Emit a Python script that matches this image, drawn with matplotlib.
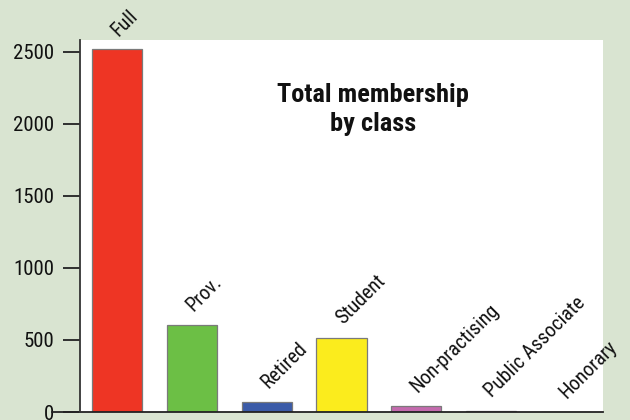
import matplotlib.pyplot as plt
from matplotlib.lines import Line2D

CLASSES = ['Full', 'Prov.', 'Retired', 'Student', 'Non-practising', 'Public Associate', 'Honorary']
MEMBERS = [2520, 605, 70, 515, 42, 8, 0]
COLOURS = ['#ee3524', '#6cbf45', '#3b5ba8', '#fbec1d', '#c46aae', '#c9d3de', '#ffffff']
YTICKS = [0, 500, 1000, 1500, 2000, 2500]

BG = '#d9e4d1'
FONT = ['Roboto Condensed', 'Archivo Narrow', 'PT Sans Narrow', 'Liberation Sans Narrow',
        'Liberation Sans', 'DejaVu Sans']

fig = plt.figure(figsize=(6.3, 4.2), dpi=100, facecolor=BG)
ax = fig.add_axes([80 / 630, 8 / 420, 523 / 630, 372 / 420])
ax.set_facecolor('white')

x = list(range(len(CLASSES)))
ax.bar(x, MEMBERS, width=0.67, color=COLOURS, edgecolor='#7a7a7a', linewidth=0.9)

ax.set_xlim(-0.5, len(CLASSES) - 0.5)
ax.set_ylim(0, 2583)

for sp in ['top', 'right', 'bottom']:
    ax.spines[sp].set_visible(False)
ax.spines['left'].set_color('#333333')
ax.spines['left'].set_linewidth(1.3)

# baseline runs a bit past the y axis
ax.add_line(Line2D([-28 / 523, 1], [0, 0], transform=ax.transAxes,
                   color='#222222', linewidth=1.3, clip_on=False))

ax.set_xticks([])
ax.set_yticks(YTICKS)
ax.set_yticklabels([str(t) for t in YTICKS], family=FONT, fontsize=15)
ax.tick_params(axis='y', direction='out', length=12.5, width=1.3, color='#222222',
               pad=6, labelcolor='#111111')

for xi, name, v in zip(x, CLASSES, MEMBERS):
    ax.annotate(name, (xi, v), xytext=(3, 7), textcoords='offset points',
                rotation=45, rotation_mode='anchor', ha='left', va='bottom',
                family=FONT, fontsize=14.5, color='#111111', annotation_clip=False)

ax.text(0.56, 0.885, 'Total membership\nby class', transform=ax.transAxes,
        ha='center', va='top', family=FONT, fontsize=19, fontweight='bold',
        linespacing=1.25, color='#111111')

fig.savefig('out.png', dpi=100, facecolor=BG)
